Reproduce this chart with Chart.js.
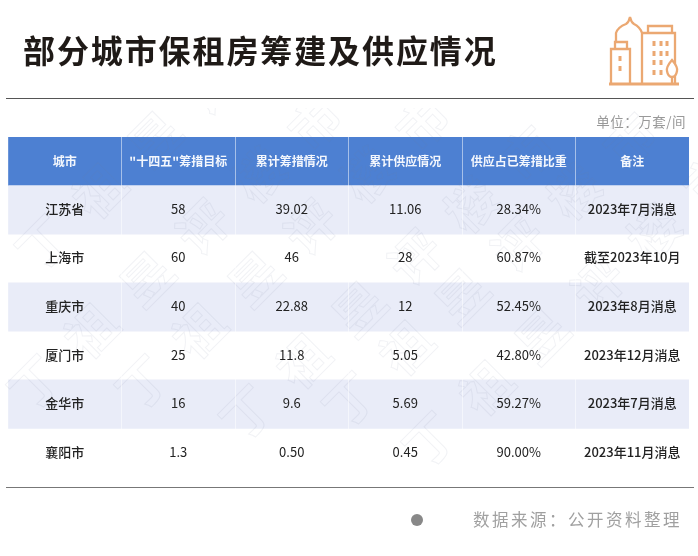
<!DOCTYPE html>
<html lang="zh">
<head>
<meta charset="utf-8">
<title>部分城市保租房筹建及供应情况</title>
<script src="https://cdn.jsdelivr.net/npm/chart.js@4"></script>
<style>
  html, body { margin: 0; padding: 0; background: #fff; }
  body { position: relative; width: 698px; height: 556px; overflow: hidden; font-family: "Noto Sans CJK SC", "Noto Sans", sans-serif; }
  #tableChart { position: absolute; left: 0; top: 0; }
  .abs { position: absolute; white-space: nowrap; }
  #title { left: 23px; top: 26px; margin: 0; font-size: 32px; line-height: 46px; font-weight: 700; letter-spacing: 1.9px; color: #1f1a17; }
  #unit { right: 12px; top: 111px; font-size: 13.5px; line-height: 20px; letter-spacing: 0.5px; color: #999; }
  #source { left: 473px; top: 507px; font-size: 16.5px; line-height: 24px; letter-spacing: 2.5px; color: #a0a0a0; }
  #dot { left: 410.5px; top: 514px; width: 12px; height: 12px; border-radius: 50%; background: #888; }
  .rule { left: 6px; width: 688px; height: 1px; }
  #ruleTop { top: 98px; background: #555; }
  #ruleBottom { top: 487px; background: #777; }
  #icon { left: 600px; top: 5px; }
</style>
</head>
<body>
<canvas id="tableChart" width="698" height="556"></canvas>
<h1 id="title" class="abs">部分城市保租房筹建及供应情况</h1>
<div id="ruleTop" class="abs rule"></div>
<div id="unit" class="abs">单位：万套/间</div>
<div id="ruleBottom" class="abs rule"></div>
<div id="dot" class="abs"></div>
<div id="source" class="abs">数据来源：公开资料整理</div>
<svg id="icon" class="abs" width="90" height="85" viewBox="600 5 90 85" fill="none" stroke="#eba872" stroke-width="2.3">
  <path d="M609 84H679" stroke-width="3"/>
  <path d="M611 84V49H630V84M615 48V42H627V48"/>
  <path d="M620 56V61M620 66V71" stroke-width="3"/>
  <path d="M616 42V33Q618 27 626 24Q629 22 630 17Q631 22 634 24Q640 27 642 33V84"/>
  <path d="M642 33H675V84M648 33V26H672V33"/>
  <path d="M654 41V46M661 41V46M667 41V46M654 51V56M661 51V56M667 51V56M654 60V65M661 60V65M654 70V75M661 70V75" stroke-width="3"/>
  <path d="M672 60Q678 67 677 71Q676 77 672 77Q668 77 667 71Q666 67 672 60ZM672 77V84" fill="#fff"/>
</svg>
<script>
// Table contents, one array per column
const headers = ['城市', '"十四五"筹措目标', '累计筹措情况', '累计供应情况', '供应占已筹措比重', '备注'];
const cities = ['江苏省', '上海市', '重庆市', '厦门市', '金华市', '襄阳市'];
const targets = ['58', '60', '40', '25', '16', '1.3'];
const raised = ['39.02', '46', '22.88', '11.8', '9.6', '0.50'];
const supplied = ['11.06', '28', '12', '5.05', '5.69', '0.45'];
const ratios = ['28.34%', '60.87%', '52.45%', '42.80%', '59.27%', '90.00%'];
const notes = ['2023年7月消息', '截至2023年10月', '2023年8月消息', '2023年12月消息', '2023年7月消息', '2023年11月消息'];

const columns = [cities, targets, raised, supplied, ratios, notes];
const rowLabels = ['表头'].concat(cities);

// Faint diagonal watermark, one strip per start point
const watermark = '丁祖昱评楼市';
const watermarkStarts = [[43, 243], [143, 383], [35, 383], [247, 413], [350, 400], [430, 440]];

// Header and every other row get a full width band
const bands = rowLabels.map((r, i) => (i === 0 || i % 2 === 1) ? [0, columns.length] : null);
const bandColors = rowLabels.map((r, i) => i === 0 ? '#4d80d2' : '#e9ecf8');

const cellText = {
    id: 'cellText',
    afterDatasetsDraw(chart) {
        const { ctx, scales: { x, y } } = chart;
        ctx.save();

        // watermark first, so the cell text stays on top
        ctx.beginPath();
        ctx.rect(0, 108, chart.width, chart.chartArea.bottom - 108);
        ctx.clip();
        ctx.textAlign = 'center';
        ctx.textBaseline = 'middle';
        ctx.font = '700 50px "Noto Sans CJK SC"';
        ctx.lineWidth = 1;
        ctx.strokeStyle = 'rgba(120,130,160,0.1)';
        watermarkStarts.forEach(([sx, sy]) => {
            [...watermark].forEach((ch, i) => {
                ctx.save();
                ctx.translate(sx + i * 56, sy - i * 52);
                ctx.rotate(-Math.PI / 4);
                ctx.strokeText(ch, 0, 0);
                ctx.restore();
            });
        });

        ctx.font = '700 12px "Noto Sans CJK SC"';
        ctx.fillStyle = '#f4f7fd';
        headers.forEach((h, c) => ctx.fillText(h, x.getPixelForValue(c + 0.5), y.getPixelForValue(0)));

        ctx.fillStyle = '#222';
        columns.forEach((col, c) => {
            // number columns are a little lighter than the city and note columns
            ctx.font = (c === 0 || c === 5 ? '500' : '400') + ' 13px "Noto Sans CJK SC"';
            col.forEach((text, r) => ctx.fillText(text, x.getPixelForValue(c + 0.5), y.getPixelForValue(r + 1) - 1));
        });
        ctx.restore();
    }
};

new Chart(document.getElementById('tableChart'), {
    type: 'bar',
    data: {
        labels: rowLabels,
        datasets: [{
            data: bands,
            backgroundColor: bandColors,
            barPercentage: 1,
            categoryPercentage: 1,
            borderSkipped: false
        }]
    },
    options: {
        indexAxis: 'y',
        responsive: false,
        animation: false,
        layout: { padding: { left: 8, right: 9, top: 137, bottom: 79 } },
        plugins: { legend: { display: false }, tooltip: { enabled: false } },
        scales: {
            x: {
                type: 'linear',
                min: 0,
                max: columns.length,
                ticks: { display: false, stepSize: 1 },
                border: { display: false },
                grid: {
                    z: 1,
                    lineWidth: 1,
                    drawTicks: false,
                    // no separator on the outer table edges
                    color: c => (c.tick.value === 0 || c.tick.value === columns.length) ? 'transparent' : 'rgba(255,255,255,0.5)'
                }
            },
            y: { display: false }
        }
    },
    plugins: [cellText]
});
</script>
</body>
</html>
